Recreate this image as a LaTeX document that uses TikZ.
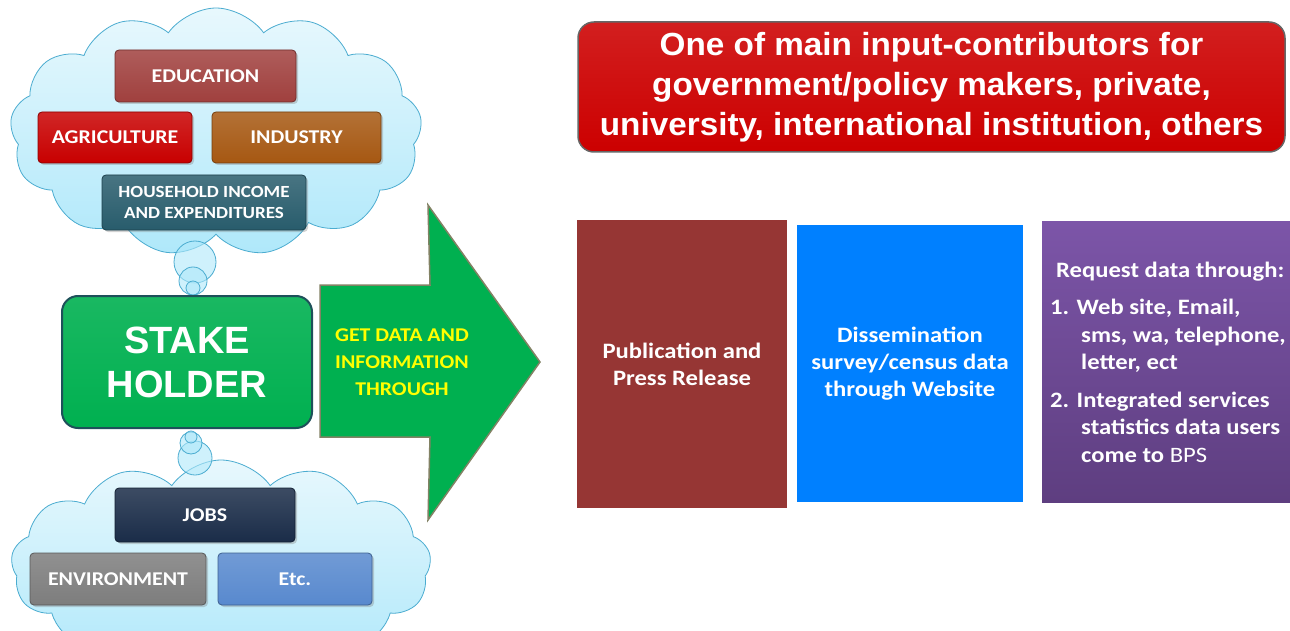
\documentclass[tikz,border=0pt]{standalone}
\usepackage{fontspec}
\newfontfamily\carl[FakeStretch=1.12]{Carlito}
\newfontfamily\ari{Liberation Sans}
\newfontfamily\arix[FakeStretch=1.04]{Liberation Sans}
\usetikzlibrary{shapes.symbols,shadows}
\definecolor{cloudline}{RGB}{75,172,208}
\definecolor{cloudtop}{RGB}{232,248,253}
\definecolor{cloudbot}{RGB}{175,232,250}
\definecolor{educ}{RGB}{160,64,62}
\definecolor{agri}{RGB}{200,0,0}
\definecolor{indu}{RGB}{166,88,18}
\definecolor{hous}{RGB}{40,92,108}
\definecolor{jobs}{RGB}{26,44,72}
\definecolor{envi}{RGB}{125,125,125}
\definecolor{etcc}{RGB}{88,137,206}
\definecolor{stgreen}{RGB}{0,176,80}
\definecolor{stline}{RGB}{30,80,90}
\definecolor{arrline}{RGB}{130,130,100}
\definecolor{topred}{RGB}{204,0,0}
\definecolor{pubc}{RGB}{150,54,52}
\definecolor{bluec}{RGB}{0,128,255}
\definecolor{purtop}{RGB}{124,85,168}
\definecolor{purbot}{RGB}{94,62,128}
\tikzset{
  cbox/.style={rectangle, rounded corners=4pt, draw=#1!70!black, line width=0.8pt,
    top color=#1!85!white, bottom color=#1, text=white, font=\carl\bfseries\fontsize{19.5}{22}\selectfont,
    align=center, inner sep=0pt, drop shadow={opacity=0.35, shadow xshift=2pt, shadow yshift=-2pt}},
  cloudshape/.style={cloud, cloud puffs=13, cloud puff arc=110, aspect=1.7, draw=cloudline,
    line width=0.8pt, top color=cloudtop, bottom color=cloudbot, inner sep=0pt},
  bubble/.style={circle, draw=cloudline, line width=0.8pt, fill=cloudbot, fill opacity=0.6, inner sep=0pt},
  bigbox/.style={rectangle, text=white, font=\carl\bfseries\fontsize{22}{27}\selectfont, align=center, inner sep=0pt},
  ptext/.style={anchor=base west, text=white, font=\carl\bfseries\fontsize{22}{27}\selectfont, inner sep=0pt},
}
\begin{document}
\begin{tikzpicture}[x=1pt,y=-1pt]
\useasboundingbox (0,0) rectangle (1290,631);
\clip (0,0) rectangle (1290,631);
\fill[white] (0,0) rectangle (1290,631);

% top cloud
\node[cloudshape, minimum width=412pt, minimum height=248pt] (cloudA) at (216,132) {};
\node[bubble, minimum size=42pt] (bA1) at (195,262) {};
\node[bubble, minimum size=28pt] (bA2) at (193,281) {};
\node[bubble, minimum size=14pt] (bA3) at (193,288) {};

% bottom cloud
\node[cloudshape, minimum width=420pt, minimum height=212pt] (cloudB) at (221,566) {};
\node[bubble, minimum size=34pt] (bB1) at (195,458) {};
\node[bubble, minimum size=22pt] (bB2) at (191,443) {};
\node[bubble, minimum size=12pt] (bB3) at (191,437) {};

% boxes in clouds
\node[cbox=educ, minimum width=181pt, minimum height=52pt] (edu) at (205.5,76) {EDUCATION};
\node[cbox=agri, minimum width=154pt, minimum height=51pt] (agr) at (115,137.5) {AGRICULTURE};
\node[cbox=indu, minimum width=169pt, minimum height=51pt] (ind) at (296.5,137.5) {INDUSTRY};
\node[cbox=hous, minimum width=204pt, minimum height=55pt, font=\carl\bfseries\fontsize{17}{21}\selectfont] (hou) at (204,202.5) {HOUSEHOLD INCOME\\AND EXPENDITURES};
\node[cbox=jobs, minimum width=180pt, minimum height=54pt] (job) at (205,515) {JOBS};
\node[cbox=envi, minimum width=176pt, minimum height=52pt] (env) at (118,579) {ENVIRONMENT};
\node[cbox=etcc, minimum width=154pt, minimum height=52pt] (etc) at (295,579) {Etc.};

% stake holder
\node[rectangle, rounded corners=16pt, draw=stline, line width=2pt, top color=stgreen!90!white, bottom color=stgreen,
  minimum width=250pt, minimum height=132pt, text=white, font=\ari\bfseries\fontsize{38}{44}\selectfont, align=center]
  (stake) at (187,362) {STAKE\\HOLDER};

% arrow
\draw[fill=stgreen, draw=arrline, line width=1.5pt, line join=miter]
  (320,285) -- (430,285) -- (428,205) -- (540,362) -- (428,520) -- (430,437) -- (320,437) -- cycle;
\node[text={rgb,255:red,255;green,255;blue,0}, font=\carl\bfseries\fontsize{19.5}{27}\selectfont, align=center] (arrtxt) at (402,362)
  {GET DATA AND\\INFORMATION\\THROUGH};

% top red box
\node[rectangle, rounded corners=16pt, draw=black!60, line width=1.5pt, top color=topred!88!white, bottom color=topred,
  minimum width=707pt, minimum height=130pt, text=white, font=\arix\bfseries\fontsize{32}{40}\selectfont, align=center]
  (top) at (931.5,87) {One of main input-contributors for\\government/policy makers, private,\\university, international institution, others};

% three boxes
\node[bigbox, fill=pubc, minimum width=210pt, minimum height=288pt] (pub) at (682,364) {Publication and\\Press Release};
\node[bigbox, fill=bluec, minimum width=226pt, minimum height=277pt] (dis) at (910,363.5) {Dissemination\\survey/census data\\through Website};
\node[rectangle, top color=purtop, bottom color=purbot, minimum width=248pt, minimum height=280pt, inner sep=0pt] (req) at (1166,362) {};

\node[ptext] (r0) at (1056,277) {Request data through:};
\node[ptext] (r1) at (1050,314) {1. Web site, Email,};
\node[ptext] (r2) at (1081,342) {sms, wa, telephone,};
\node[ptext] (r3) at (1081,369) {letter, ect};
\node[ptext] (r4) at (1050,407) {2. Integrated services};
\node[ptext] (r5) at (1081,434) {statistics data users};
\node[ptext] (r6) at (1081,462) {come to {\mdseries BPS}};
\end{tikzpicture}
\end{document}
